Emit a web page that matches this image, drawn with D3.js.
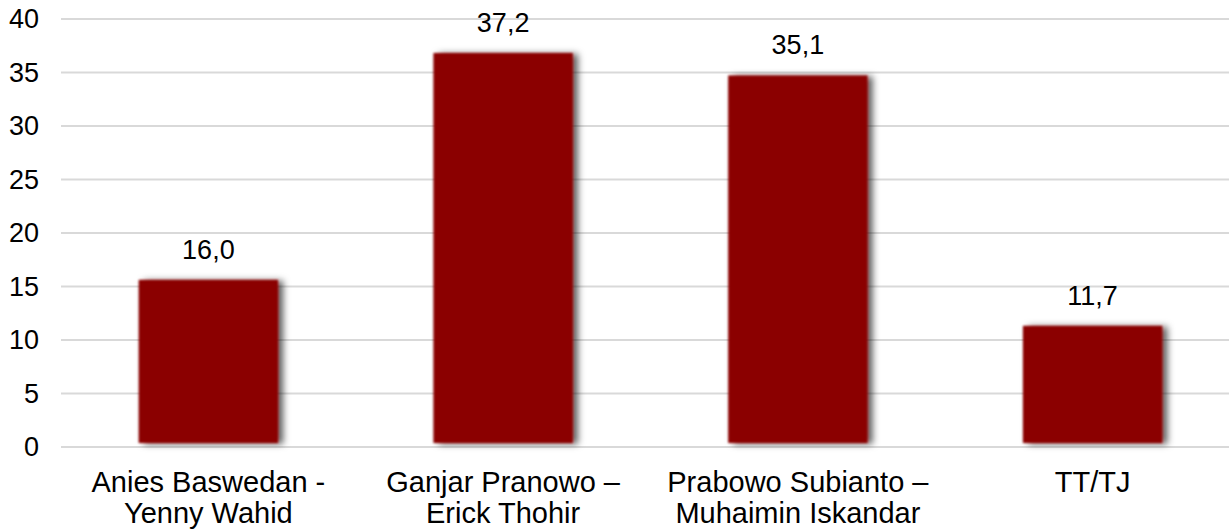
<!DOCTYPE html>
<html>
<head>
<meta charset="utf-8">
<script src="https://cdn.jsdelivr.net/npm/d3@7"></script>
<style>
  html, body { margin: 0; padding: 0; background: #fff; }
  svg { display: block; }
  text { font-family: "Liberation Sans", Arial, sans-serif; fill: #000; }
</style>
</head>
<body>
<svg id="chart" width="1229" height="529"></svg>
<script>
// ---- data ----
const categories = [
  ["Anies Baswedan -", "Yenny Wahid"],
  ["Ganjar Pranowo –", "Erick Thohir"],
  ["Prabowo Subianto –", "Muhaimin Iskandar"],
  ["TT/TJ"]
];
const values = [16.0, 37.2, 35.1, 11.7];
const yTicks = [0, 5, 10, 15, 20, 25, 30, 35, 40];

// ---- layout ----
const W = 1229, H = 529;
const svg = d3.select("#chart");
const keys = categories.map((c, i) => i);

const x = d3.scaleBand().domain(keys).range([61, 1240]).paddingInner(0.5).paddingOuter(0.25);
const y = d3.scaleLinear().domain([0, 40]).range([447, 19]);

const locale = d3.formatLocale({ decimal: ",", thousands: ".", grouping: [3], currency: ["", ""] });
const fmt = locale.format(".1f");

// filter for soft shadow
const defs = svg.append("defs");
const f = defs.append("filter").attr("id", "sh")
  .attr("x", "-20%").attr("y", "-20%").attr("width", "150%").attr("height", "150%");
f.append("feGaussianBlur").attr("in", "SourceAlpha").attr("stdDeviation", 3.5).attr("result", "b");
f.append("feOffset").attr("in", "b").attr("dx", 5).attr("dy", 1).attr("result", "o");
f.append("feFlood").attr("flood-color", "#000").attr("flood-opacity", 0.65).attr("result", "c");
f.append("feComposite").attr("in", "c").attr("in2", "o").attr("operator", "in").attr("result", "s");
f.append("feGaussianBlur").attr("in", "SourceGraphic").attr("stdDeviation", 0.8).attr("result", "g");
const m = f.append("feMerge");
m.append("feMergeNode").attr("in", "s");
m.append("feMergeNode").attr("in", "g");

// gridlines
svg.append("g").selectAll("line").data(yTicks).join("line")
  .attr("x1", 61).attr("x2", W)
  .attr("y1", d => y(d)).attr("y2", d => y(d))
  .attr("stroke", "#d9d9d9").attr("stroke-width", 2);

// y axis labels
svg.append("g").selectAll("text").data(yTicks).join("text")
  .attr("x", 39).attr("y", d => y(d))
  .attr("text-anchor", "end").attr("dominant-baseline", "central")
  .style("font-size", "27px")
  .text(d => d);

// bars
const inset = 4;
svg.append("g").selectAll("rect").data(values).join("rect")
  .attr("x", (d, i) => x(i) + inset)
  .attr("width", x.bandwidth() - 2 * inset)
  .attr("y", d => y(d) + inset)
  .attr("height", d => y(0) - y(d) - 2 * inset)
  .attr("fill", "#8b0000")
  .attr("filter", "url(#sh)");

// value labels
svg.append("g").selectAll("text").data(values).join("text")
  .attr("x", (d, i) => x(i) + x.bandwidth() / 2)
  .attr("y", d => y(d) - 17)
  .attr("text-anchor", "middle")
  .style("font-size", "27px")
  .text(d => fmt(d));

// x labels
const xl = svg.append("g").selectAll("text").data(categories).join("text")
  .attr("x", (d, i) => x(i) + x.bandwidth() / 2)
  .attr("y", 492)
  .attr("text-anchor", "middle")
  .style("font-size", "29px");
xl.each(function(lines, i) {
  const t = d3.select(this);
  lines.forEach((ln, j) => {
    t.append("tspan")
      .attr("x", x(i) + x.bandwidth() / 2)
      .attr("dy", j === 0 ? 0 : 31)
      .text(ln);
  });
});
</script>
</body>
</html>
